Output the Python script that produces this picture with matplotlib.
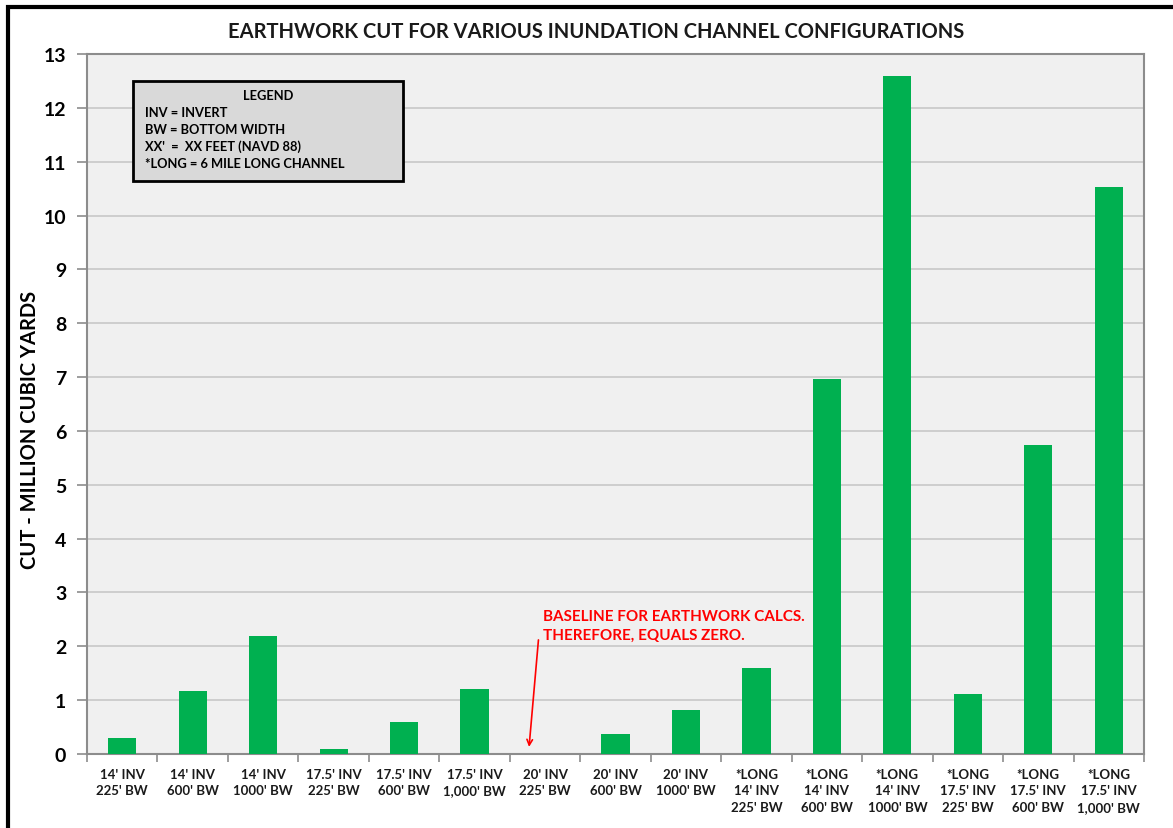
import matplotlib
matplotlib.use("Agg")
import matplotlib.pyplot as plt
from matplotlib.patches import Rectangle

plt.rcParams["font.family"] = ["Lato", "DejaVu Sans"]

categories = [
    "14' INV\n225' BW", "14' INV\n600' BW", "14' INV\n1000' BW",
    "17.5' INV\n225' BW", "17.5' INV\n600' BW", "17.5' INV\n1,000' BW",
    "20' INV\n225' BW", "20' INV\n600' BW", "20' INV\n1000' BW",
    "*LONG\n14' INV\n225' BW", "*LONG\n14' INV\n600' BW", "*LONG\n14' INV\n1000' BW",
    "*LONG\n17.5' INV\n225' BW", "*LONG\n17.5' INV\n600' BW", "*LONG\n17.5' INV\n1,000' BW",
]
cut_myd = [0.30, 1.17, 2.19, 0.09, 0.59, 1.21, 0.0, 0.37, 0.82,
           1.60, 6.96, 12.59, 1.11, 5.74, 10.53]
y_ticks = list(range(0, 14))

legend_lines = ["INV = INVERT", "BW = BOTTOM WIDTH",
                "XX'  =  XX FEET (NAVD 88)", "*LONG = 6 MILE LONG CHANNEL"]

GREEN = "#00b050"
GRID = "#c8c8c8"
SPINE = "#8c8c8c"

fig = plt.figure(figsize=(11.73, 8.29), dpi=100)
ax = fig.add_axes([87 / 1173, 1 - 755 / 829, (1144 - 87) / 1173, 700 / 829])
ax.set_facecolor("#f0f0f0")

xs = list(range(len(categories)))
ax.bar(xs, cut_myd, width=0.4, color=GREEN, zorder=3)

ax.set_xlim(-0.5, len(categories) - 0.5)
ax.set_ylim(0, 13)
ax.set_yticks(y_ticks)
ax.set_yticklabels([str(t) for t in y_ticks], fontsize=14, fontweight="bold")
ax.grid(axis="y", color=GRID, lw=1.2, zorder=0)
ax.tick_params(axis="y", length=7, color=SPINE, width=1.2, pad=8)

ax.set_xticks(xs)
ax.set_xticklabels(categories, fontsize=9.5, fontweight="bold", color="#1a1a1a",
                   linespacing=1.45, va="top")
ax.tick_params(axis="x", which="major", length=0, pad=10)
ax.set_xticks([i - 0.5 for i in range(len(categories) + 1)], minor=True)
ax.tick_params(axis="x", which="minor", length=6, color=SPINE, width=1.2)

for s in ax.spines.values():
    s.set_color(SPINE)
    s.set_linewidth(1.5)

ax.set_ylabel("CUT - MILLION CUBIC YARDS", fontsize=14.5, fontweight="bold")
ax.yaxis.set_label_coords(-0.044, 0.464)

fig.text(596 / 1173, 1 - 32 / 829, "EARTHWORK CUT FOR VARIOUS INUNDATION CHANNEL CONFIGURATIONS",
         ha="center", va="center", fontsize=14.5, fontweight="bold", color="#1a1a1a")

# legend box
lx0, ly0, lx1, ly1 = 133, 82, 403, 182
fig.patches.append(Rectangle((lx0 / 1173, 1 - ly1 / 829), (lx1 - lx0) / 1173, (ly1 - ly0) / 829,
                             transform=fig.transFigure, facecolor="#d9d9d9",
                             edgecolor="black", lw=2, zorder=5))
fig.text((lx0 + lx1) / 2 / 1173, 1 - 96 / 829, "LEGEND", ha="center", va="center",
         fontsize=9.3, fontweight="bold", zorder=6)
for i, line in enumerate(legend_lines):
    fig.text(145 / 1173, 1 - (113 + i * 17) / 829, line, ha="left", va="center",
             fontsize=9.3, fontweight="bold", zorder=6)

# baseline note
ax.annotate("", xy=(5.77, 0.08), xytext=(5.91, 2.17),
            arrowprops=dict(arrowstyle="->", color="red", lw=1.2), zorder=6)
ax.text(5.97, 2.7, "BASELINE FOR EARTHWORK CALCS.\nTHEREFORE, EQUALS ZERO.",
        ha="left", va="top", fontsize=11, fontweight="bold", color="#ff0000",
        linespacing=1.5, zorder=6)

# outer frame
fig.patches.append(Rectangle((8 / 1173, -0.1), 1.2, 1 - 8 / 829 + 0.1,
                             transform=fig.transFigure, fill=False,
                             edgecolor="black", lw=3, zorder=10))

fig.savefig("out.png", dpi=100)
